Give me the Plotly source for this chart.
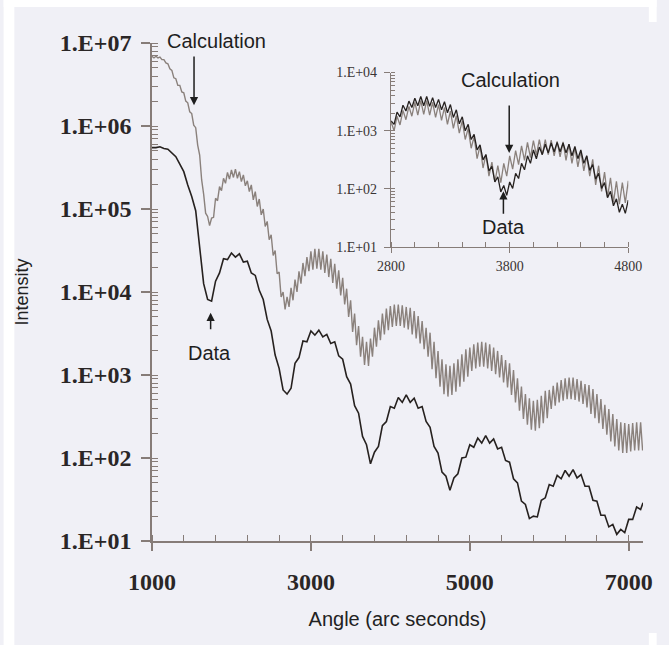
import plotly.graph_objects as go

# ---------------- data ----------------
# Calculation curve: angle (arc s) and log10(intensity); dense fringes
calc_x = [
    1000, 1025, 1050, 1075, 1100, 1125, 1150, 1175, 1200, 1225,
    1250, 1275, 1300, 1325, 1350, 1375, 1400, 1425, 1450, 1475,
    1500, 1525, 1550, 1575, 1600, 1625, 1650, 1675, 1700, 1725,
    1750, 1775, 1800, 1825, 1850, 1875, 1900, 1925, 1950, 1975,
    2000, 2025, 2050, 2075, 2100, 2125, 2150, 2175, 2200, 2225,
    2250, 2275, 2300, 2325, 2350, 2375, 2400, 2425, 2450, 2475,
    2500, 2525, 2550, 2575, 2600, 2625, 2650, 2675, 2700, 2725,
    2750, 2775, 2800, 2825, 2850, 2875, 2900, 2925, 2950, 2975,
    3000, 3025, 3050, 3075, 3100, 3125, 3150, 3175, 3200, 3225,
    3250, 3275, 3300, 3325, 3350, 3375, 3400, 3425, 3450, 3475,
    3500, 3525, 3550, 3575, 3600, 3625, 3650, 3675, 3700, 3725,
    3750, 3775, 3800, 3825, 3850, 3875, 3900, 3925, 3950, 3975,
    4000, 4025, 4050, 4075, 4100, 4125, 4150, 4175, 4200, 4225,
    4250, 4275, 4300, 4325, 4350, 4375, 4400, 4425, 4450, 4475,
    4500, 4525, 4550, 4575, 4600, 4625, 4650, 4675, 4700, 4725,
    4750, 4775, 4800, 4825, 4850, 4875, 4900, 4925, 4950, 4975,
    5000, 5025, 5050, 5075, 5100, 5125, 5150, 5175, 5200, 5225,
    5250, 5275, 5300, 5325, 5350, 5375, 5400, 5425, 5450, 5475,
    5500, 5525, 5550, 5575, 5600, 5625, 5650, 5675, 5700, 5725,
    5750, 5775, 5800, 5825, 5850, 5875, 5900, 5925, 5950, 5975,
    6000, 6025, 6050, 6075, 6100, 6125, 6150, 6175, 6200, 6225,
    6250, 6275, 6300, 6325, 6350, 6375, 6400, 6425, 6450, 6475,
    6500, 6525, 6550, 6575, 6600, 6625, 6650, 6675, 6700, 6725,
    6750, 6775, 6800, 6825, 6850, 6875, 6900, 6925, 6950, 6975,
    7000, 7025, 7050, 7075, 7100, 7125, 7150, 7175,
]
calc_log10 = [
    6.84, 6.82, 6.84, 6.82, 6.83, 6.80, 6.80, 6.76, 6.75, 6.69,
    6.67, 6.58, 6.57, 6.49, 6.49, 6.41, 6.40, 6.30, 6.28, 6.17,
    6.15, 6.01, 5.98, 5.77, 5.65, 5.35, 5.18, 4.95, 4.91, 4.80,
    4.89, 4.90, 5.13, 5.10, 5.27, 5.22, 5.37, 5.31, 5.44, 5.36,
    5.47, 5.38, 5.48, 5.37, 5.45, 5.33, 5.41, 5.28, 5.34, 5.21,
    5.29, 5.11, 5.21, 5.03, 5.12, 4.93, 5.00, 4.79, 4.85, 4.63,
    4.69, 4.44, 4.50, 4.22, 4.24, 3.94, 4.00, 3.79, 3.94, 3.82,
    4.05, 3.90, 4.15, 4.00, 4.25, 4.10, 4.35, 4.19, 4.42, 4.25,
    4.49, 4.27, 4.52, 4.28, 4.52, 4.27, 4.49, 4.23, 4.45, 4.18,
    4.40, 4.11, 4.34, 4.04, 4.26, 3.96, 4.17, 3.85, 4.04, 3.70,
    3.90, 3.52, 3.74, 3.36, 3.59, 3.22, 3.46, 3.12, 3.40, 3.11,
    3.44, 3.22, 3.57, 3.34, 3.66, 3.42, 3.74, 3.49, 3.80, 3.54,
    3.83, 3.58, 3.85, 3.59, 3.85, 3.59, 3.84, 3.57, 3.82, 3.55,
    3.81, 3.49, 3.77, 3.44, 3.71, 3.38, 3.65, 3.31, 3.57, 3.22,
    3.51, 3.07, 3.40, 2.96, 3.29, 2.86, 3.19, 2.77, 3.13, 2.74,
    3.11, 2.76, 3.14, 2.80, 3.19, 2.86, 3.25, 2.92, 3.31, 2.98,
    3.33, 3.05, 3.37, 3.08, 3.39, 3.10, 3.40, 3.10, 3.39, 3.08,
    3.37, 3.05, 3.33, 3.01, 3.29, 2.97, 3.24, 2.91, 3.18, 2.85,
    3.14, 2.76, 3.06, 2.67, 2.96, 2.57, 2.86, 2.47, 2.77, 2.40,
    2.72, 2.34, 2.69, 2.33, 2.70, 2.36, 2.75, 2.42, 2.81, 2.48,
    2.82, 2.59, 2.87, 2.63, 2.91, 2.67, 2.94, 2.69, 2.96, 2.71,
    2.97, 2.71, 2.97, 2.70, 2.95, 2.68, 2.93, 2.65, 2.89, 2.61,
    2.88, 2.53, 2.83, 2.48, 2.77, 2.42, 2.71, 2.35, 2.64, 2.28,
    2.59, 2.20, 2.53, 2.14, 2.47, 2.09, 2.43, 2.06, 2.42, 2.06,
    2.41, 2.08, 2.42, 2.09, 2.43, 2.09, 2.43, 2.09,
]

# Data (measured) curve: angle (arc s) and log10(intensity)
data_x = [
    1000, 1050, 1100, 1150, 1200, 1250, 1300, 1350, 1400, 1450,
    1500, 1550, 1600, 1650, 1700, 1750, 1800, 1850, 1900, 1950,
    2000, 2050, 2100, 2150, 2200, 2250, 2300, 2350, 2400, 2450,
    2500, 2550, 2600, 2650, 2700, 2750, 2800, 2850, 2900, 2950,
    3000, 3050, 3100, 3150, 3200, 3250, 3300, 3350, 3400, 3450,
    3500, 3550, 3600, 3650, 3700, 3750, 3800, 3850, 3900, 3950,
    4000, 4050, 4100, 4150, 4200, 4250, 4300, 4350, 4400, 4450,
    4500, 4550, 4600, 4650, 4700, 4750, 4800, 4850, 4900, 4950,
    5000, 5050, 5100, 5150, 5200, 5250, 5300, 5350, 5400, 5450,
    5500, 5550, 5600, 5650, 5700, 5750, 5800, 5850, 5900, 5950,
    6000, 6050, 6100, 6150, 6200, 6250, 6300, 6350, 6400, 6450,
    6500, 6550, 6600, 6650, 6700, 6750, 6800, 6850, 6900, 6950,
    7000, 7050, 7100, 7150, 7180,
]
data_log10 = [
    5.74, 5.74, 5.75, 5.73, 5.72, 5.67, 5.63, 5.54, 5.45, 5.29,
    5.15, 4.98, 4.57, 4.10, 3.91, 3.89, 4.13, 4.23, 4.40, 4.39,
    4.47, 4.42, 4.46, 4.36, 4.37, 4.23, 4.20, 4.02, 3.91, 3.67,
    3.53, 3.24, 3.08, 2.82, 2.77, 2.84, 3.14, 3.21, 3.41, 3.40,
    3.53, 3.48, 3.54, 3.46, 3.49, 3.38, 3.40, 3.23, 3.19, 2.98,
    2.89, 2.63, 2.54, 2.26, 2.16, 1.93, 2.07, 2.14, 2.39, 2.44,
    2.62, 2.60, 2.73, 2.67, 2.76, 2.67, 2.72, 2.60, 2.62, 2.44,
    2.37, 2.14, 2.06, 1.83, 1.78, 1.61, 1.76, 1.81, 2.00, 2.01,
    2.16, 2.13, 2.24, 2.18, 2.27, 2.18, 2.23, 2.11, 2.13, 1.97,
    1.95, 1.75, 1.70, 1.48, 1.44, 1.27, 1.30, 1.29, 1.49, 1.52,
    1.68, 1.66, 1.79, 1.75, 1.85, 1.78, 1.86, 1.76, 1.80, 1.66,
    1.66, 1.49, 1.48, 1.31, 1.31, 1.17, 1.20, 1.08, 1.14, 1.10,
    1.26, 1.26, 1.41, 1.38, 1.46,
]

# Inset (2800-4800 arc s): data with fringes; calculation normalised to data
inset_data_x = [
    2800, 2825, 2850, 2875, 2900, 2925, 2950, 2975, 3000, 3025,
    3050, 3075, 3100, 3125, 3150, 3175, 3200, 3225, 3250, 3275,
    3300, 3325, 3350, 3375, 3400, 3425, 3450, 3475, 3500, 3525,
    3550, 3575, 3600, 3625, 3650, 3675, 3700, 3725, 3750, 3775,
    3800, 3825, 3850, 3875, 3900, 3925, 3950, 3975, 4000, 4025,
    4050, 4075, 4100, 4125, 4150, 4175, 4200, 4225, 4250, 4275,
    4300, 4325, 4350, 4375, 4400, 4425, 4450, 4475, 4500, 4525,
    4550, 4575, 4600, 4625, 4650, 4675, 4700, 4725, 4750, 4775,
    4800,
]
inset_data_log10 = [
    3.17, 3.11, 3.32, 3.24, 3.44, 3.34, 3.51, 3.40, 3.56, 3.43,
    3.59, 3.43, 3.59, 3.42, 3.57, 3.40, 3.54, 3.36, 3.50, 3.31,
    3.45, 3.23, 3.36, 3.12, 3.24, 3.00, 3.11, 2.85, 2.94, 2.67,
    2.76, 2.50, 2.59, 2.31, 2.39, 2.12, 2.21, 1.95, 2.06, 1.89,
    2.12, 2.01, 2.27, 2.18, 2.44, 2.33, 2.57, 2.44, 2.67, 2.52,
    2.72, 2.59, 2.77, 2.62, 2.79, 2.64, 2.80, 2.64, 2.79, 2.62,
    2.77, 2.57, 2.73, 2.52, 2.67, 2.44, 2.57, 2.32, 2.42, 2.17,
    2.27, 2.01, 2.11, 1.85, 1.96, 1.71, 1.83, 1.60, 1.74, 1.58,
    1.81,
]
inset_calc_norm = 0.1  # calculation scaled onto the data level in the inset

# tick labels
main_x_ticks = [1000, 3000, 5000, 7000]
main_x_labels = ["1000", "3000", "5000", "7000"]
main_y_ticks = [1e1, 1e2, 1e3, 1e4, 1e5, 1e6, 1e7]
main_y_labels = ["1.E+01", "1.E+02", "1.E+03", "1.E+04", "1.E+05", "1.E+06", "1.E+07"]
inset_x_ticks = [2800, 3800, 4800]
inset_x_labels = ["2800", "3800", "4800"]
inset_y_ticks = [1e1, 1e2, 1e3, 1e4]
inset_y_labels = ["1.E+01", "1.E+02", "1.E+03", "1.E+04"]

# ---------------- figure ----------------
calc_y = [10 ** v for v in calc_log10]
data_y = [10 ** v for v in data_log10]
inset_calc_y = [v * inset_calc_norm for v in calc_y]
inset_data_y = [10 ** v for v in inset_data_log10]

BG = "#f0f0f6"
AX = "#867c78"
CALC_C = "#8a817c"
DATA_C = "#26211f"

fig = go.Figure()
fig.add_trace(go.Scatter(x=calc_x, y=calc_y, mode="lines", name="Calculation",
                         line=dict(color=CALC_C, width=1.4), xaxis="x", yaxis="y"))
fig.add_trace(go.Scatter(x=data_x, y=data_y, mode="lines", name="Data",
                         line=dict(color=DATA_C, width=1.6), xaxis="x", yaxis="y"))
fig.add_trace(go.Scatter(x=calc_x, y=inset_calc_y, mode="lines", name="Calculation (inset)",
                         line=dict(color=CALC_C, width=1.3), xaxis="x2", yaxis="y2"))
fig.add_trace(go.Scatter(x=inset_data_x, y=inset_data_y, mode="lines", name="Data (inset)",
                         line=dict(color=DATA_C, width=1.3), xaxis="x2", yaxis="y2"))

serif_bold = dict(family="Liberation Serif", size=24, color="#2a2626", weight="bold")
serif_small = dict(family="Liberation Serif", size=14, color="#3a3434")
sans = "Liberation Sans, Arial, sans-serif"

fig.update_layout(
    width=669, height=645,
    margin=dict(l=152, r=14, t=43, b=104),
    paper_bgcolor=BG, plot_bgcolor=BG,
    showlegend=False,
    xaxis=dict(
        domain=[0, 1], range=[1000, 7180], anchor="y",
        showline=True, linecolor=AX, linewidth=1.6, showgrid=False, zeroline=False,
        tickmode="array", tickvals=main_x_ticks, ticktext=main_x_labels,
        ticks="outside", ticklen=8, tickwidth=1.6, tickcolor=AX,
        tickfont=serif_bold, ticklabelstandoff=10,
        minor=dict(dtick=400, tick0=1000, ticks="inside", ticklen=6, tickwidth=1.2,
                   tickcolor=AX, showgrid=False),
        title=dict(text="Angle (arc seconds)", font=dict(family=sans, size=20, color="#222"),
                   standoff=18),
    ),
    yaxis=dict(
        domain=[0, 1], type="log", range=[1, 7], anchor="x",
        showline=True, linecolor=AX, linewidth=1.6, showgrid=False, zeroline=False,
        tickmode="array", tickvals=main_y_ticks, ticktext=main_y_labels,
        ticks="outside", ticklen=9, tickwidth=1.6, tickcolor=AX,
        tickfont=serif_bold, ticklabelstandoff=5,
        minor=dict(dtick="D1", ticks="inside", ticklen=6, tickwidth=1.1,
                   tickcolor=AX, showgrid=False),
        title=dict(text="Intensity", font=dict(family=sans, size=18, color="#222"),
                   standoff=26),
    ),
    xaxis2=dict(
        domain=[0.487, 0.970], range=[2800, 4800], anchor="y2",
        showline=True, linecolor=AX, linewidth=1.4, showgrid=False, zeroline=False,
        tickmode="array", tickvals=inset_x_ticks, ticktext=inset_x_labels,
        ticks="outside", ticklen=5, tickwidth=1.4, tickcolor=AX,
        tickfont=serif_small, ticklabelstandoff=1,
        minor=dict(dtick=200, tick0=2800, ticks="inside", ticklen=5, tickwidth=1.1,
                   tickcolor=AX, showgrid=False),
    ),
    yaxis2=dict(
        domain=[0.590, 0.9406], type="log", range=[1, 4], anchor="x2",
        showline=True, linecolor=AX, linewidth=1.4, showgrid=False, zeroline=False,
        tickmode="array", tickvals=inset_y_ticks, ticktext=inset_y_labels,
        ticks="outside", ticklen=6, tickwidth=1.4, tickcolor=AX,
        tickfont=serif_small, ticklabelstandoff=4,
        minor=dict(dtick="D1", ticks="inside", ticklen=4, tickwidth=1.0,
                   tickcolor=AX, showgrid=False),
    ),
)

# white page strips around the grey panel
white_boxes = [
    (-0.3022, -0.2803, -0.2088, 1.0863),
    (-0.3022, 1.0278, 1.0723, 1.0863),
    (1.0119, 1.0278, 1.0422, 1.0863),
    (1.0119, 1.0278, -0.2088, -0.1847),
]
for x0, x1, y0, y1 in white_boxes:
    fig.add_shape(type="rect", xref="paper", yref="paper", x0=x0, x1=x1, y0=y0, y1=y1,
                  fillcolor="white", line=dict(width=0), layer="below")

ARROW_C = "#1e1e1e"
label_font = dict(family=sans, size=20, color="#1e1e1e")

def arrow(xr, yr, x, y_tip, y_tail):
    fig.add_annotation(xref=xr, yref=yr, x=x, y=y_tip, ax=x, ay=y_tail,
                       axref=xr, ayref=yr, text="", showarrow=True,
                       arrowhead=2, arrowsize=1.1, arrowwidth=1.5, arrowcolor=ARROW_C,
                       standoff=0, startstandoff=0)

def label(xr, yr, x, y, txt):
    fig.add_annotation(xref=xr, yref=yr, x=x, y=y, text=txt, showarrow=False,
                       font=label_font, xanchor="center", yanchor="middle")

# main plot
label("x", "paper", 1812, 1.004, "Calculation")
arrow("x", "y", 1529, 6.25, 6.855)
label("x", "y", 1726, 3.268, "Data")
arrow("x", "y", 1738, 3.751, 3.534)
# inset
label("x2", "y2", 3804, 3.873, "Calculation")
arrow("x2", "y2", 3796, 2.617, 3.46)
label("x2", "y2", 3747, 1.344, "Data")
arrow("x2", "y2", 3747, 1.963, 1.55)

fig.write_html("out.html")
